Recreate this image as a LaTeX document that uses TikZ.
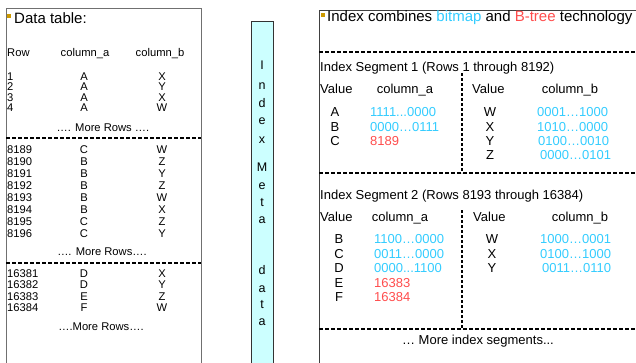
\documentclass[tikz,border=0pt]{standalone}
\usepackage{fontspec}
\setmainfont{Liberation Sans}
\definecolor{bitc}{HTML}{33CCFF}
\definecolor{redc}{HTML}{FF4D4D}
\definecolor{bulc}{HTML}{CC9900}
\definecolor{barc}{HTML}{CCFFFF}
\definecolor{boxc}{HTML}{707070}
\begin{document}
\begin{tikzpicture}[x=1pt,y=-1pt,
  txt/.style={inner sep=0pt, text height=0.716em, text depth=0pt},
  tab/.style={txt, font=\fontsize{11.2}{12}\selectfont},
  seg/.style={txt, font=\fontsize{13}{14}\selectfont},
  head/.style={txt, font=\fontsize{15}{18}\selectfont},
  barl/.style={txt, font=\fontsize{12.5}{14}\selectfont},
  dline/.style={draw=black, line width=1.4pt, dash pattern=on 4pt off 2pt},
  vline/.style={draw=black, line width=1.3pt, dash pattern=on 3pt off 2pt},
  boxline/.style={draw=boxc, line width=0.9pt},
  bul/.style={fill=bulc}]
\useasboundingbox (0,0) rectangle (636,362);
\begin{scope}
\clip (0,0) rectangle (636,362);
% left box
\draw[boxline] (6,380) -- (6,8) -- (201,8) -- (201,380);
% middle bar
\draw[fill=barc, draw=black!80, line width=0.9pt] (251,380) -- (251,21) -- (273,21) -- (273,380);
% right box
\draw[boxline, draw=black!75] (319,380) -- (319,10) -- (640,10);
% bullets
\fill[bul] (7,13.5) rectangle (10.5,17.5);
\fill[bul] (321,12.5) rectangle (324.5,16.5);

% ---------- left table ----------
\node[head, anchor=west] (dt) at (14,20) {Data table:};
\node[tab, anchor=west] (hrow) at (7,53) {Row};
\node[tab] (hca) at (85,53) {column\_a};
\node[tab] (hcb) at (160,53) {column\_b};
\foreach \y/\n/\a/\b in {76.5/1/A/X, 87/2/A/Y, 97.5/3/A/X, 108/4/A/W,
  150/8189/C/W, 162/8190/B/Z, 174/8191/B/Y, 186/8192/B/Z, 198/8193/B/W,
  210/8194/B/X, 222/8195/C/Z, 234/8196/C/Y,
  273.5/16381/D/X, 285/16382/D/Y, 296.5/16383/E/Z, 308/16384/F/W}{
  \node[tab, anchor=west] (r\n) at (7,\y) {\n};
  \node[tab] (a\n) at (84,\y) {\a};
  \node[tab] (b\n) at (162,\y) {\b};
}
\node[tab] (mr1) at (103,128) {…. More Rows ….};
\node[tab] (mr2) at (102,252) {…. More Rows….};
\node[tab] (mr3) at (101,327) {….More Rows….};
\coordinate (l1a) at (6,138); \coordinate (l1b) at (201,138);
\coordinate (l2a) at (6,263); \coordinate (l2b) at (201,263);
\draw[dline] (l1a) -- (l1b);
\draw[dline] (l2a) -- (l2b);

% ---------- middle bar ----------
\foreach \y/\c [count=\i] in {66/I, 86/n, 104/d, 121/e, 140/x, 168/M, 186/e, 203/t, 220/a,
  271/d, 289/a, 305/t, 322/a}{
  \node[barl] (bar\i) at (262,\y) {\c};
}

% ---------- right panel ----------
\node[head, anchor=west, font=\fontsize{15}{18}\selectfont] (ic) at (327,18) {Index combines \textcolor{bitc}{bitmap} and \textcolor{redc}{B-tree} technology};
\coordinate (d1a) at (319,52); \coordinate (d1b) at (640,52);
\coordinate (d2a) at (319,173); \coordinate (d2b) at (640,173);
\coordinate (d3a) at (319,329); \coordinate (d3b) at (640,329);
\draw[dline] (d1a) -- (d1b);
\draw[dline] (d2a) -- (d2b);
\draw[dline] (d3a) -- (d3b);
\coordinate (v1a) at (462,73); \coordinate (v1b) at (462,173);
\coordinate (v2a) at (462,210); \coordinate (v2b) at (462,329);
\draw[vline] (v1a) -- (v1b);
\draw[vline] (v2a) -- (v2b);

% segment 1
\node[seg, anchor=west] (s1) at (320,68) {Index Segment 1 (Rows 1 through 8192)};
\node[seg, anchor=west] (s1v) at (320,90) {Value};
\node[seg] (s1ca) at (405,90) {column\_a};
\node[seg, anchor=west] (s1v2) at (472,90) {Value};
\node[seg] (s1cb) at (570,90) {column\_b};
\node[seg] (s1A) at (335,113) {A};
\node[seg] (s1B) at (335,127.5) {B};
\node[seg] (s1C) at (335,142) {C};
\node[seg, anchor=west, text=bitc] (s1Ab) at (370,113) {1111...0000};
\node[seg, anchor=west, text=bitc] (s1Bb) at (370,127.5) {0000…0111};
\node[seg, anchor=west, text=redc] (s1Cb) at (370,142) {8189};
\node[seg] (s1W) at (490,113) {W};
\node[seg] (s1X) at (490,127.5) {X};
\node[seg] (s1Y) at (490,142) {Y};
\node[seg] (s1Z) at (490,156) {Z};
\node[seg, anchor=west, text=bitc] (s1Wb) at (537,113) {0001…1000};
\node[seg, anchor=west, text=bitc] (s1Xb) at (537,127.5) {1010…0000};
\node[seg, anchor=west, text=bitc] (s1Yb) at (538,142) {0100…0010};
\node[seg, anchor=west, text=bitc] (s1Zb) at (540,156) {0000…0101};

% segment 2
\node[seg, anchor=west] (s2) at (320,196) {Index Segment 2 (Rows 8193 through 16384)};
\node[seg, anchor=west] (s2v) at (320,218) {Value};
\node[seg] (s2ca) at (400,218) {column\_a};
\node[seg, anchor=west] (s2v2) at (473,218) {Value};
\node[seg] (s2cb) at (580,218) {column\_b};
\node[seg] (s2B) at (339,240) {B};
\node[seg] (s2C) at (339,254.5) {C};
\node[seg] (s2D) at (339,269) {D};
\node[seg] (s2E) at (339,283.5) {E};
\node[seg] (s2F) at (339,298) {F};
\node[seg, anchor=west, text=bitc] (s2Bb) at (374,240) {1100…0000};
\node[seg, anchor=west, text=bitc] (s2Cb) at (374,254.5) {0011…0000};
\node[seg, anchor=west, text=bitc] (s2Db) at (374,269) {0000...1100};
\node[seg, anchor=west, text=redc] (s2Eb) at (374,283.5) {16383};
\node[seg, anchor=west, text=redc] (s2Fb) at (374,298) {16384};
\node[seg] (s2W) at (492,240) {W};
\node[seg] (s2X) at (492,254.5) {X};
\node[seg] (s2Y) at (492,269) {Y};
\node[seg, anchor=west, text=bitc] (s2Wb) at (540,240) {1000…0001};
\node[seg, anchor=west, text=bitc] (s2Xb) at (540,254.5) {0100…1000};
\node[seg, anchor=west, text=bitc] (s2Yb) at (542,269) {0011…0110};

\node[seg] (more) at (478,341) {… More index segments...};
\end{scope}
\end{tikzpicture}
\end{document}
